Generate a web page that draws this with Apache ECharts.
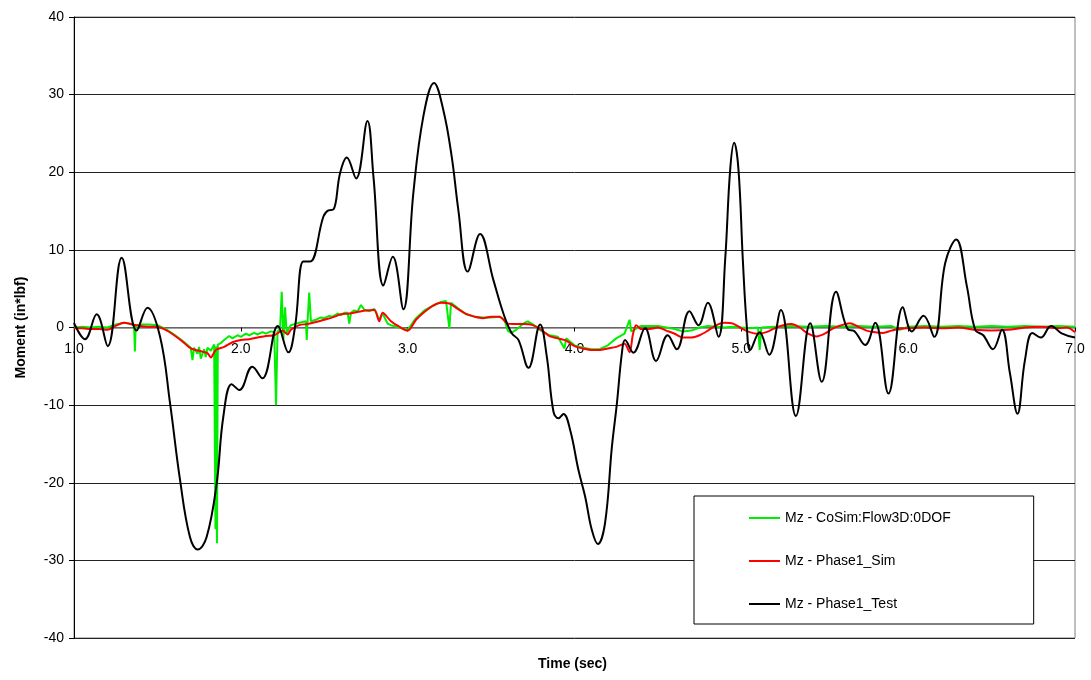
<!DOCTYPE html>
<html>
<head>
<meta charset="utf-8">
<script src="https://cdn.jsdelivr.net/npm/echarts@6/dist/echarts.min.js"></script>
<style>
html,body{margin:0;padding:0;background:#fff;}
#chart{width:1091px;height:680px;}
</style>
</head>
<body>
<div id="chart"></div>
<script>
// ---- Data ----
const seriesNames = ['Mz - CoSim:Flow3D:0DOF', 'Mz - Phase1_Sim', 'Mz - Phase1_Test'];
const xTitle = 'Time (sec)';
const yTitle = 'Moment (in*lbf)';

// Phase1_Test (black)
const testT = [1.0,1.066,1.136,1.202,1.286,1.376,1.44,1.516,1.576,1.636,1.695,1.742,1.795,1.855,1.895,1.945,1.991,2.069,2.129,2.222,2.285,2.325,2.375,2.415,2.495,2.525,2.555,2.595,2.635,2.691,2.759,2.795,2.855,2.911,2.974,3.034,3.094,3.158,3.214,3.264,3.304,3.36,3.434,3.514,3.574,3.624,3.664,3.724,3.794,3.834,3.874,3.904,3.934,3.974,4.024,4.064,4.104,4.14,4.183,4.224,4.254,4.284,4.303,4.353,4.423,4.489,4.559,4.613,4.689,4.743,4.799,4.863,4.903,4.933,4.957,4.983,5.009,5.033,5.053,5.109,5.167,5.237,5.327,5.413,5.482,5.568,5.642,5.672,5.742,5.802,5.882,5.968,6.022,6.092,6.156,6.222,6.288,6.352,6.402,6.45,6.508,6.562,6.61,6.655,6.70,6.745,6.795,6.857,6.92,7.0];
const testV = [0.6,-1.5,1.7,-2.4,9.0,-0.4,2.55,-1.2,-9.8,-19.7,-27.0,-28.6,-27.0,-20.1,-11.5,-7.3,-8.05,-5.05,-6.55,0.2,-3.2,0.1,8.5,8.5,14.3,15.1,15.2,19.9,21.9,19.2,26.6,19.4,5.4,9.1,2.35,17.3,27.2,31.5,28.0,22.0,15.1,7.2,12.05,6.1,1.8,-0.75,-1.6,-5.2,0.4,-3.75,-10.85,-11.7,-11.15,-13.2,-18.4,-21.8,-26.1,-27.9,-25.2,-15.4,-9.8,-3.3,-1.6,-3.25,-0.1,-4.3,-1.0,-2.8,2.1,0.3,3.2,-1.2,8.7,20.3,23.8,20.3,8.7,0.1,-2.9,-0.6,-3.5,2.25,-11.4,0.55,-7.0,4.6,-0.3,-0.4,-2.25,0.6,-8.5,2.6,-0.5,1.5,-1.2,8.3,11.35,5.3,-0.3,-1.0,-2.8,-0.3,-5.9,-11.1,-4.2,-0.7,-1.3,0.2,-0.75,-1.3];

// Phase1_Sim (red)
const simT = [1.0,1.05,1.1,1.15,1.2,1.25,1.3,1.35,1.4,1.45,1.5,1.55,1.6,1.65,1.7,1.75,1.8,1.82,1.85,1.9,1.95,2.0,2.05,2.1,2.15,2.2,2.25,2.28,2.3,2.35,2.4,2.45,2.5,2.55,2.6,2.65,2.7,2.75,2.8,2.83,2.85,2.9,2.95,3.0,3.05,3.1,3.15,3.2,3.25,3.3,3.35,3.4,3.45,3.5,3.55,3.6,3.65,3.7,3.75,3.8,3.85,3.9,3.95,4.0,4.05,4.1,4.15,4.2,4.25,4.3,4.33,4.35,4.37,4.4,4.45,4.5,4.55,4.6,4.65,4.7,4.75,4.8,4.85,4.9,4.95,5.0,5.05,5.1,5.15,5.2,5.25,5.3,5.35,5.4,5.45,5.5,5.55,5.6,5.65,5.7,5.75,5.8,5.85,5.9,5.95,6.0,6.1,6.2,6.3,6.4,6.5,6.6,6.7,6.8,6.9,6.95,7.0];
const simV = [-0.1,-0.1,-0.2,-0.2,-0.3,0.2,0.6,0.4,0.2,0.1,0.05,-0.3,-1.0,-1.8,-2.7,-3.0,-3.3,-3.85,-2.9,-2.5,-1.9,-1.6,-1.5,-1.3,-1.1,-1.0,-0.4,-0.9,-0.3,0.3,0.45,0.7,1.0,1.3,1.7,1.8,2.0,2.2,2.25,0.8,1.9,0.8,0.1,-0.4,1.0,2.0,2.8,3.2,3.1,2.4,1.75,1.4,1.2,1.4,1.4,0.5,0.45,0.45,0.3,-0.3,-1.1,-1.4,-1.7,-2.4,-2.7,-2.9,-2.9,-2.7,-2.5,-2.1,-3.2,-0.9,0.3,-0.2,-0.2,0.0,-0.4,-0.8,-1.3,-1.3,-1.0,-0.4,0.3,0.6,0.5,-0.1,-0.6,-0.8,-0.6,-0.1,0.3,0.45,0.0,-0.8,-1.15,-0.8,-0.1,0.3,0.55,0.1,-0.4,-0.6,-0.7,-0.4,-0.15,-0.1,0.0,-0.1,0.0,-0.3,-0.4,-0.3,0.0,0.1,-0.1,0.0,-0.6];

// CoSim:Flow3D:0DOF (green)
const cosimT = [1.0,1.05,1.1,1.15,1.2,1.25,1.3,1.33,1.36,1.365,1.37,1.4,1.45,1.5,1.55,1.6,1.65,1.7,1.71,1.72,1.74,1.75,1.76,1.78,1.79,1.8,1.82,1.84,1.848,1.852,1.857,1.862,1.88,1.9,1.93,1.95,1.98,2.0,2.03,2.05,2.08,2.1,2.13,2.15,2.18,2.2,2.211,2.22,2.235,2.245,2.255,2.265,2.275,2.29,2.3,2.33,2.35,2.39,2.395,2.4,2.41,2.42,2.45,2.48,2.5,2.53,2.55,2.58,2.6,2.62,2.64,2.65,2.66,2.68,2.7,2.72,2.74,2.77,2.8,2.83,2.85,2.88,2.9,2.95,3.0,3.05,3.1,3.15,3.2,3.23,3.25,3.26,3.3,3.35,3.4,3.45,3.5,3.55,3.58,3.6,3.62,3.65,3.7,3.72,3.75,3.8,3.85,3.9,3.94,3.95,4.0,4.05,4.1,4.15,4.2,4.25,4.3,4.33,4.34,4.4,4.45,4.5,4.55,4.6,4.65,4.7,4.75,4.8,4.85,4.9,4.95,5.0,5.05,5.1,5.11,5.12,5.2,5.3,5.4,5.5,5.6,5.7,5.8,5.9,5.95,6.0,6.1,6.2,6.3,6.4,6.5,6.6,6.7,6.8,6.9,7.0];
const cosimV = [0.0,0.1,0.0,0.1,0.0,0.4,0.6,0.5,0.3,-3.1,0.3,0.4,0.4,0.3,-0.2,-0.9,-1.7,-2.6,-4.2,-2.6,-3.4,-2.5,-4.0,-2.8,-3.8,-2.6,-3.0,-2.2,-26.0,-2.4,-27.8,-2.2,-2.0,-1.6,-1.1,-1.4,-1.0,-1.2,-0.8,-1.0,-0.7,-0.9,-0.6,-0.8,-0.5,-0.6,-10.0,-0.5,-0.2,4.6,-1.5,2.6,-0.8,0.0,0.3,0.5,0.6,0.8,-1.6,0.8,4.5,0.8,1.0,1.3,1.2,1.5,1.4,1.8,1.6,1.9,1.9,0.5,1.9,2.2,2.1,2.9,2.3,2.1,2.4,1.0,1.8,0.5,0.3,0.0,-0.3,1.2,2.2,2.8,3.3,3.4,-0.1,3.2,2.5,1.7,1.4,1.3,1.3,1.4,1.0,-0.4,-0.7,-0.3,0.6,0.8,0.4,-0.4,-1.0,-1.2,-2.7,-1.4,-2.3,-2.6,-2.8,-2.8,-2.3,-1.4,-0.8,1.0,-0.5,0.2,0.2,0.2,0.0,-0.2,-0.5,-0.4,0.0,0.2,0.1,0.0,0.1,0.0,-0.1,0.0,-2.9,0.0,0.1,0.2,0.1,0.2,0.1,0.2,0.1,0.2,-0.3,0.1,0.2,0.1,0.2,0.1,0.2,0.1,0.2,0.1,0.2,0.1];

const yMin = -40, yMax = 40, yStep = 10;
const xMin = 1, xMax = 7, xStep = 1;

function pairs(t, v) { return t.map((x, i) => [x, v[i]]); }

const gridTop = 17, gridBottom = 42, chartH = 680;
const plotH = chartH - gridTop - gridBottom;
// distance from the bottom of the plot up to the y = 0 line
const zeroOffset = plotH * (0 - yMin) / (yMax - yMin);

const font = 'Arial, "Liberation Sans", sans-serif';
const chart = echarts.init(document.getElementById('chart'), null, { renderer: 'canvas' });
chart.setOption({
  animation: false,
  backgroundColor: '#fff',
  grid: { left: 74, right: 16, top: gridTop, bottom: gridBottom, show: true, borderColor: '#808080', borderWidth: 1, backgroundColor: 'transparent' },
  legend: {
    data: seriesNames,
    orient: 'vertical',
    left: 694, top: 496,
    padding: [15, 83, 13, 54],
    itemGap: 29,
    itemWidth: 31, itemHeight: 14,
    backgroundColor: '#fff',
    borderColor: '#000', borderWidth: 1,
    itemStyle: { opacity: 0 },
    textStyle: { fontSize: 14, color: '#000', fontFamily: font }
  },
  xAxis: {
    type: 'value', min: xMin, max: xMax, interval: xStep,
    offset: -zeroOffset,
    axisLine: { onZero: false, lineStyle: { color: '#808080', width: 1.5 } },
    axisTick: { show: true, length: 4, lineStyle: { color: '#000' } },
    axisLabel: { formatter: v => v.toFixed(1), fontSize: 14, color: '#000', fontFamily: font, margin: 15 },
    splitLine: { show: false }
  },
  yAxis: {
    type: 'value', min: yMin, max: yMax, interval: yStep,
    name: yTitle, nameLocation: 'middle', nameGap: 46,
    nameTextStyle: { fontSize: 14, fontWeight: 'bold', color: '#000', fontFamily: font },
    axisLine: { onZero: false, lineStyle: { color: '#000', width: 1 } },
    axisTick: { show: true, length: 5, lineStyle: { color: '#000' } },
    axisLabel: { fontSize: 14, color: '#000', fontFamily: font, margin: 10 },
    splitLine: { show: true, lineStyle: { color: '#222', width: 1 } }
  },
  graphic: [{
    type: 'text', left: 538, top: 657,
    style: { text: xTitle, font: 'bold 14px ' + font, fill: '#000' }
  }],
  series: [
    { name: seriesNames[0], type: 'line', data: pairs(cosimT, cosimV), symbol: 'none', lineStyle: { color: '#00ee00', width: 2 }, itemStyle: { color: '#00ee00' }, z: 2 },
    { name: seriesNames[1], type: 'line', data: pairs(simT, simV), symbol: 'none', smooth: 0.3, lineStyle: { color: '#ff0000', width: 2 }, itemStyle: { color: '#ff0000' }, z: 3 },
    { name: seriesNames[2], type: 'line', data: pairs(testT, testV), symbol: 'none', smooth: 0.4, lineStyle: { color: '#000000', width: 2 }, itemStyle: { color: '#000000' }, z: 4 }
  ]
});
</script>
</body>
</html>
